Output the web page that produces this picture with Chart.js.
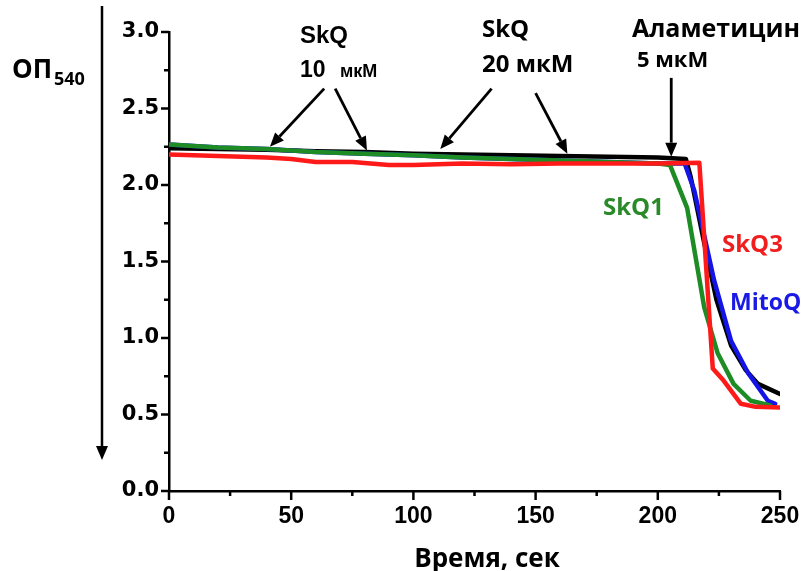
<!DOCTYPE html>
<html lang="ru">
<head>
<meta charset="utf-8">
<title>ОП540</title>
<script src="https://cdn.jsdelivr.net/npm/chart.js@4/dist/chart.umd.min.js"></script>
<style>
    html, body { margin: 0; padding: 0; background: #fff; }
    #wrap { width: 804px; height: 571px; }
</style>
</head>
<body>
<div id="wrap"><canvas id="graficoOD" width="804" height="571"></canvas></div>
<script>
// Время (сек) и оптическая плотность для каждого препарата
const tiempoControl = [0, 20, 40, 60, 80, 100, 120, 140, 160, 180, 200, 211.5, 213.5, 219, 224, 230, 236, 241, 250];
const odControl = [2.24, 2.235, 2.23, 2.22, 2.215, 2.205, 2.2, 2.195, 2.19, 2.185, 2.18, 2.17, 2.05, 1.62, 1.25, 0.95, 0.79, 0.7, 0.635];

const tiempoSkQ1 = [0, 20, 40, 60, 80, 100, 120, 140, 160, 180, 200, 205, 212, 219, 224.5, 231, 238, 246];
const odSkQ1 = [2.265, 2.245, 2.235, 2.215, 2.205, 2.195, 2.18, 2.17, 2.16, 2.15, 2.14, 2.13, 1.85, 1.2, 0.9, 0.7, 0.59, 0.56];

const tiempoMitoQ = [0, 20, 40, 60, 80, 100, 120, 140, 160, 180, 200, 211, 215, 223, 230, 237, 245, 248];
const odMitoQ = [2.265, 2.245, 2.235, 2.215, 2.205, 2.195, 2.18, 2.17, 2.16, 2.15, 2.14, 2.14, 1.96, 1.38, 0.98, 0.77, 0.59, 0.57];

const tiempoSkQ3 = [0, 20, 40, 50, 60, 75, 90, 100, 120, 140, 160, 180, 200, 217, 222.5, 227, 234, 240, 250];
const odSkQ3 = [2.2, 2.19, 2.18, 2.17, 2.15, 2.15, 2.13, 2.13, 2.14, 2.135, 2.14, 2.14, 2.14, 2.145, 0.8, 0.72, 0.57, 0.55, 0.545];

// Ticks de los ejes
const ticksTiempo = [0, 50, 100, 150, 200, 250];
const ticksOD = [0.0, 0.5, 1.0, 1.5, 2.0, 2.5, 3.0];

function puntos(xs, ys) {
    return xs.map((x, i) => ({ x: x, y: ys[i] }));
}

// Flechas de adición: [t inicio, OD inicio, t punta, OD punta]
const flechas = [
    [63.5, 2.63, 41.3, 2.25],
    [68, 2.63, 81, 2.225],
    [132, 2.63, 111, 2.235],
    [150, 2.6, 163, 2.205],
    [205.5, 2.7, 205.5, 2.185]
];

function flecha(ctx, x1, y1, x2, y2) {
    const ang = Math.atan2(y2 - y1, x2 - x1);
    const largo = 14, ancho = 6;
    const bx = x2 - largo * Math.cos(ang), by = y2 - largo * Math.sin(ang);
    ctx.beginPath();
    ctx.moveTo(x1, y1);
    ctx.lineTo(bx, by);
    ctx.stroke();
    ctx.beginPath();
    ctx.moveTo(x2, y2);
    ctx.lineTo(bx + ancho * Math.sin(ang), by - ancho * Math.cos(ang));
    ctx.lineTo(bx - ancho * Math.sin(ang), by + ancho * Math.cos(ang));
    ctx.closePath();
    ctx.fill();
}

function texto(ctx, str, x, y, font, color, align) {
    ctx.font = font;
    ctx.fillStyle = color;
    ctx.textAlign = align || "left";
    ctx.textBaseline = "alphabetic";
    ctx.fillText(str, x, y);
}

// Marcas de los ejes, flechas y rótulos
const decoraciones = {
    id: "decoraciones",
    afterDraw(chart) {
        const ctx = chart.ctx;
        const sx = chart.scales.x, sy = chart.scales.y;
        ctx.save();
        ctx.strokeStyle = "#000";
        ctx.fillStyle = "#000";
        ctx.lineWidth = 2.5;

        sx.ticks.forEach(t => {
            const px = sx.getPixelForValue(t.value);
            const l = ticksTiempo.includes(t.value) ? 9 : 5;
            ctx.beginPath();
            ctx.moveTo(px, sx.top);
            ctx.lineTo(px, sx.top + l);
            ctx.stroke();
        });
        sy.ticks.forEach(t => {
            const py = sy.getPixelForValue(t.value);
            const mayor = ticksOD.some(v => Math.abs(v - t.value) < 1e-6);
            const l = mayor ? 8 : 5;
            ctx.beginPath();
            ctx.moveTo(sy.right, py);
            ctx.lineTo(sy.right - l, py);
            ctx.stroke();
        });

        // flechas de adición
        ctx.lineWidth = 2.8;
        flechas.forEach(f => {
            flecha(ctx,
                sx.getPixelForValue(f[0]), sy.getPixelForValue(f[1]),
                sx.getPixelForValue(f[2]), sy.getPixelForValue(f[3]));
        });

        // eje vertical con flecha
        ctx.lineWidth = 2.5;
        flecha(ctx, 102, 6, 102, 460);

        const os = "bold 24px 'Open Sans'";
        texto(ctx, "SkQ", 300, 43, "bold 24px 'Liberation Sans'", "#000");
        texto(ctx, "10", 300, 77, "bold 23px 'Liberation Sans'", "#000");
        texto(ctx, "мкМ", 340, 77, "bold 18px 'Liberation Sans'", "#000");
        texto(ctx, "SkQ", 482, 37, os, "#000");
        texto(ctx, "20 мкМ", 482, 72, os, "#000");
        texto(ctx, "Аламетицин", 632, 37, "bold 25px 'Open Sans'", "#000");
        texto(ctx, "5 мкМ", 637, 67, "bold 22px 'Open Sans'", "#000");

        texto(ctx, "SkQ1", 603, 215, os, "#2a8a2a");
        texto(ctx, "SkQ3", 722, 252, os, "#f01e1e");
        texto(ctx, "MitoQ", 730, 310, "bold 23px 'Open Sans'", "#1a1ae6");

        texto(ctx, "ОП", 12, 78, "bold 26px 'Open Sans'", "#000");
        texto(ctx, "540", 54, 85, "bold 18px 'Open Sans'", "#000");
        texto(ctx, "Время, сек", 487, 567, "bold 26px 'Open Sans'", "#000", "center");
        ctx.restore();
    }
};

document.addEventListener("DOMContentLoaded", function () {
    const ctx = document.getElementById("graficoOD").getContext("2d");
    const linea = (datos, color) => ({
        data: datos,
        borderColor: color,
        borderWidth: 4.5,
        borderJoinStyle: "round",
        borderCapStyle: "round",
        pointRadius: 0,
        tension: 0,
        fill: false
    });
    new Chart(ctx, {
        type: "line",
        data: {
            // el primero queda encima
            datasets: [
                linea(puntos(tiempoSkQ3, odSkQ3), "#ff1a1a"),
                linea(puntos(tiempoSkQ1, odSkQ1), "#1e8c24"),
                linea(puntos(tiempoMitoQ, odMitoQ), "#1414e6"),
                linea(puntos(tiempoControl, odControl), "#000000")
            ]
        },
        options: {
            responsive: false,
            animation: false,
            layout: { padding: { top: 32, right: 24, bottom: 0, left: 0 } },
            plugins: {
                legend: { display: false },
                tooltip: { enabled: false }
            },
            scales: {
                x: {
                    type: "linear",
                    min: 0,
                    max: 250,
                    afterFit: s => {
                        s.height = 80;
                        s.paddingLeft = 0;
                        s.paddingRight = 24;
                    },
                    grid: { display: false, drawTicks: false },
                    border: { display: true, color: "#000", width: 2.5 },
                    ticks: {
                        stepSize: 25,
                        autoSkip: false,
                        maxRotation: 0,
                        padding: 12,
                        color: "#000",
                        font: { family: "'Liberation Sans'", weight: "bold", size: 23 },
                        callback: v => ticksTiempo.includes(v) ? String(v) : ""
                    }
                },
                y: {
                    type: "linear",
                    min: 0,
                    max: 3,
                    afterFit: s => { s.width = 169; },
                    grid: { display: false, drawTicks: false },
                    border: { display: true, color: "#000", width: 2.5 },
                    ticks: {
                        stepSize: 0.25,
                        autoSkip: false,
                        padding: 10,
                        color: "#000",
                        font: { family: "'DejaVu Sans'", weight: "bold", size: 21 },
                        callback: v => ticksOD.some(t => Math.abs(t - v) < 1e-6) ? v.toFixed(1) : ""
                    }
                }
            }
        },
        plugins: [decoraciones]
    });
});
</script>
</body>
</html>
